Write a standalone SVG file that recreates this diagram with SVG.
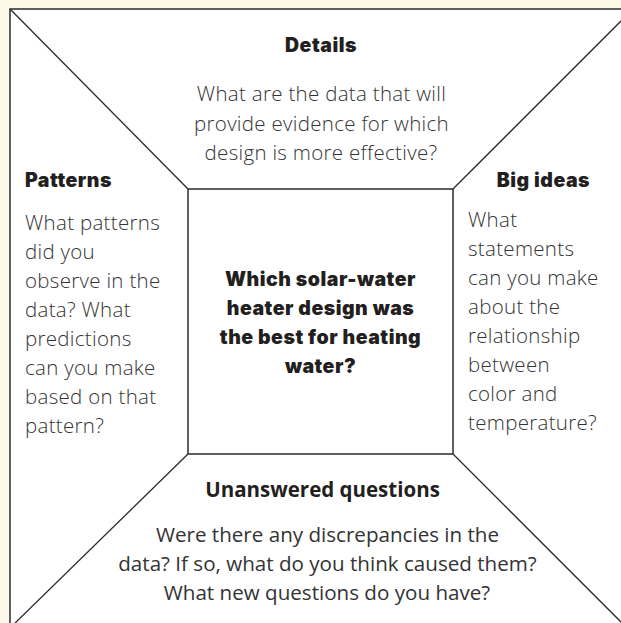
<svg xmlns="http://www.w3.org/2000/svg" width="621" height="623" viewBox="0 0 621 623">
<style>
.bg{fill:#fdf9e9}
.frame{fill:#ffffff;stroke:#2b2b2b;stroke-width:1.5}
.line{stroke:#2b2b2b;stroke-width:1.3;fill:none}
.head{font-family:Inter,"Noto Sans",sans-serif;font-weight:900;font-size:19.5px;letter-spacing:0.5px;fill:#231f20}
.body{font-family:"Open Sans","Noto Sans",sans-serif;font-weight:300;font-size:20.5px;letter-spacing:0.3px;fill:#333333}
.head2{font-family:"Open Sans","Noto Sans",sans-serif;font-weight:700;font-size:20.5px;fill:#231f20}
.body2{font-family:"Open Sans","Noto Sans",sans-serif;font-weight:400;font-size:20.6px;fill:#333333}
.mid{text-anchor:middle}
.end{text-anchor:end}
</style>
<rect class="bg" x="0" y="0" width="621" height="623"/>
<rect class="frame" x="10" y="9" width="630" height="630"/>
<g id="connectors">
<line class="line" x1="10" y1="9" x2="188" y2="189"/>
<line class="line" x1="453" y1="189" x2="633" y2="9"/>
<line class="line" x1="453" y1="454" x2="630" y2="631"/>
<line class="line" x1="188" y1="454" x2="10" y2="628"/>
</g>
<g id="center">
<rect class="frame" x="188" y="189" width="265" height="265"/>
<text class="head mid" x="320.5" y="286">Which solar-water</text>
<text class="head mid" x="320.5" y="315">heater design was</text>
<text class="head mid" x="320.5" y="344">the best for heating</text>
<text class="head mid" x="320.5" y="373">water?</text>
</g>
<g id="details">
<text class="head mid" x="321" y="52">Details</text>
<text class="body mid" x="321.5" y="101">What are the data that will</text>
<text class="body mid" x="321.5" y="130.5">provide evidence for which</text>
<text class="body mid" x="321" y="160">design is more effective?</text>
</g>
<g id="patterns">
<text class="head" x="25" y="187">Patterns</text>
<text class="body" x="25" y="230">What patterns</text>
<text class="body" x="25" y="259">did you</text>
<text class="body" x="25" y="288">observe in the</text>
<text class="body" x="25" y="317">data? What</text>
<text class="body" x="25" y="346">predictions</text>
<text class="body" x="25" y="375">can you make</text>
<text class="body" x="25" y="404">based on that</text>
<text class="body" x="25" y="433">pattern?</text>
</g>
<g id="big-ideas">
<text class="head end" x="590" y="187">Big ideas</text>
<text class="body" x="468" y="227">What</text>
<text class="body" x="468" y="256">statements</text>
<text class="body" x="468" y="285">can you make</text>
<text class="body" x="468" y="314">about the</text>
<text class="body" x="468" y="343">relationship</text>
<text class="body" x="468" y="372">between</text>
<text class="body" x="468" y="401">color and</text>
<text class="body" x="468" y="430">temperature?</text>
</g>
<g id="unanswered">
<text class="head2 mid" x="322.5" y="497">Unanswered questions</text>
<text class="body2 mid" x="327.5" y="542">Were there any discrepancies in the</text>
<text class="body2 mid" x="327.5" y="571">data? If so, what do you think caused them?</text>
<text class="body2 mid" x="327" y="600">What new questions do you have?</text>
</g>
</svg>
